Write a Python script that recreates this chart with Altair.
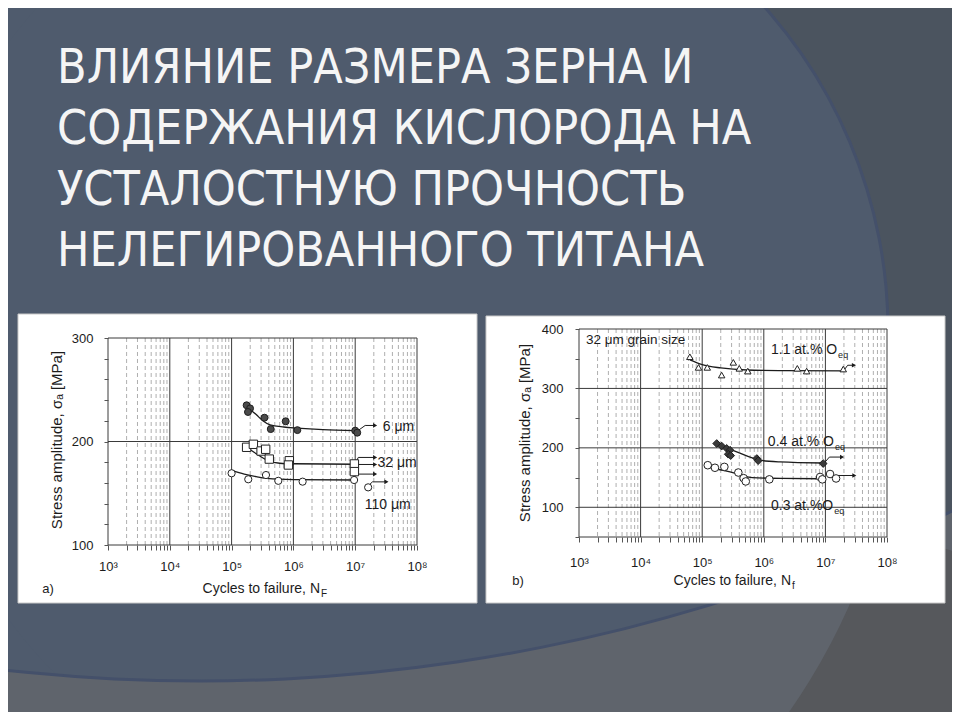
import math
import altair as alt
import pandas as pd

# ---------------- data ----------------
TITLE_LINES = [
    "ВЛИЯНИЕ РАЗМЕРА ЗЕРНА И",
    "СОДЕРЖАНИЯ КИСЛОРОДА НА",
    "УСТАЛОСТНУЮ ПРОЧНОСТЬ",
    "НЕЛЕГИРОВАННОГО ТИТАНА",
]

DECADES = [1e3, 1e4, 1e5, 1e6, 1e7, 1e8]
MINOR_MULT = [2, 3, 4, 5, 6, 7, 8, 9]
A_YTICKS = [100, 120, 140, 160, 180, 200, 220, 240, 260, 280, 300]
A_YGRID = [100, 200, 300]
B_YTICKS = [50, 100, 150, 200, 250, 300, 350, 400]
B_YGRID = [50, 100, 200, 300, 400]

# panel a) grain size
A6_N = [1.75e5, 1.99e5, 1.84e5, 3.4e5, 4.3e5, 7.5e5, 1.16e6, 1.0e7, 1.08e7]
A6_S = [235, 232, 228.5, 223, 212, 219.5, 211, 210.5, 208.5]
A6_CN = [1.9e5, 2.5e5, 3.2e5, 4.2e5, 7e5, 1.14e6, 3e6, 1e7]
A6_CS = [232, 226, 220, 216, 214, 213, 211.5, 210.5]

A32_N = [1.75e5, 2.25e5, 3.0e5, 3.56e5, 4.07e5, 8.6e5, 8.3e5, 9.7e6, 9.7e6]
A32_S = [194.4, 197.3, 190.8, 192.5, 183, 181.4, 177.3, 178.3, 170.9]
A32_CN = [1.9e5, 2.7e5, 4e5, 6e5, 1e6, 1e7]
A32_CS = [193, 187, 181, 179, 178.5, 178]

A110_N = [1.0e5, 1.86e5, 3.6e5, 5.7e5, 1.41e6, 9.6e6, 1.62e7]
A110_S = [169.3, 163.5, 167.6, 162, 161.2, 162.8, 155.7]
A110_CN = [1e5, 1.6e5, 2.5e5, 3.7e5, 1e6, 1e7]
A110_CS = [172, 168.5, 166, 164.4, 163.2, 162.8]

A_ARROW_ID = [0, 0, 0, 1, 1, 1, 2, 2, 3, 3, 3, 4, 4, 4]
A_ARROW_N = [1.08e7, 1.45e7, 2.1e7, 1.05e7, 1.12e7, 2.1e7, 1.08e7, 2.1e7,
             1.05e7, 1.12e7, 2.1e7, 1.62e7, 1.9e7, 3.2e7]
A_ARROW_S = [210, 215.5, 215.5, 181, 184.6, 184.6, 177.8, 177.8,
             170, 168.5, 168.5, 157, 161, 161]

A_LABELS = ["6 μm", "32 μm", "110 μm"]
A_LABEL_N = [2.8e7, 2.3e7, 1.43e7]
A_LABEL_S = [214, 179.5, 139]

# panel b) oxygen content (32 μm grain size)
B11_N = [6.3e4, 8.7e4, 1.21e5, 2.07e5, 3.2e5, 4.0e5, 5.5e5, 3.5e6, 4.96e6, 1.95e7]
B11_S = [353.3, 335.4, 335.4, 322.5, 343.9, 333.8, 329.2, 333.8, 329.2, 332.6]
B11_CN = [6.3e4, 1e5, 2e5, 5.3e5, 2e6, 1.95e7]
B11_CS = [348, 340, 334.5, 331, 330, 329.5]

B04_N = [1.72e5, 2.07e5, 2.5e5, 2.83e5, 2.65e5, 2.9e5, 7.7e5, 8.1e5, 9.2e6]
B04_S = [207.3, 203, 199, 196, 189.3, 187, 182, 178.5, 173.6]
B04_CN = [1.72e5, 3.63e5, 8.7e5, 1.83e6, 9.2e6]
B04_CS = [207, 193.2, 179.2, 176.3, 174.5]

B03_N = [1.23e5, 1.61e5, 2.29e5, 3.86e5, 4.7e5, 5.1e5, 1.23e6, 8.2e6, 8.9e6, 1.19e7, 1.49e7]
B03_S = [170.8, 166.5, 168, 158.5, 149, 143.5, 147, 151, 147, 156, 148.5]
B03_CN = [1.19e5, 1.6e5, 2.5e5, 4e5, 6.5e5, 2e6, 8e6]
B03_CS = [169, 165, 161, 155.5, 150, 148.5, 148]

B_ARROW_ID = [0, 0, 0, 1, 1, 1, 2, 2]
B_ARROW_N = [1.95e7, 2.3e7, 2.9e7, 9.5e6, 1.16e7, 1.86e7, 1.6e7, 2.95e7]
B_ARROW_S = [329, 339, 339, 174, 184.5, 184.5, 153.5, 153.5]

B_LABELS = ["1.1 at.% O", "0.4 at.% O", "0.3 at.%O"]
B_LABEL_N = [1.55e7, 1.38e7, 1.34e7]
B_LABEL_S = [365, 210, 102]
B_SUB = ["eq", "eq", "eq"]

# ---------------- styling ----------------
FONT = "Liberation Sans"
TFONT = "DejaVu Sans Condensed, Roboto Condensed, Liberation Sans Narrow, Roboto, sans-serif"
INK = "#1c1c1c"
BLUE = "#4f5b6d"
SLATE = "#4b545f"
GREY = "#5f646c"
DGREY = "#56585c"
EDGE = "#44506a"

one = pd.DataFrame({"k": [0]})


def sdf(n, s):
    return pd.DataFrame({"n": n, "s": s})


def build_panel(W, H, ydomain, yrange, yticks, ygrid, labpad_x, labpad_y,
                series, curves, arrows, labels, extras, frame):
    xs = alt.Scale(type="log", domain=[1e3, 1e8])
    ys = alt.Scale(domain=ydomain, range=yrange)
    minor = [m * d for d in DECADES[:-1] for m in MINOR_MULT]
    xaxis = alt.Axis(values=DECADES + minor, title=None, grid=False, domain=False,
                     tickSize=5, tickColor="#555", labelPadding=labpad_x,
                     labelFont=FONT, labelFontSize=13, labelColor=INK,
                     labelOverlap=False, labelFlush=False, zindex=1,
                     labelExpr="abs(log(datum.value)/LN10 - round(log(datum.value)/LN10)) < 0.01 ? "
                               "'10' + ['³','⁴','⁵','⁶','⁷','⁸'][round(log(datum.value)/LN10)-3] : ''")
    yaxis = alt.Axis(values=yticks, title=None, grid=False, domain=False,
                     tickSize=4, tickColor="#555", labelPadding=labpad_y,
                     labelFont=FONT, labelFontSize=13, labelColor=INK,
                     labelOverlap=False, zindex=1,
                     labelExpr="datum.value % 100 === 0 ? datum.label : ''")
    X = alt.X("n:Q", scale=xs, axis=xaxis)
    Y = alt.Y("s:Q", scale=ys, axis=yaxis)

    ytop, ybot = yrange[1], yrange[0]
    layers = list(extras)
    # white page of the scanned figure
    layers.append(alt.Chart(one).mark_rect(color="white", stroke="#c9c9c9", strokeWidth=1).encode(
        x=alt.value(frame[0]), x2=alt.value(frame[1]), y=alt.value(frame[2]), y2=alt.value(frame[3])))
    # log-paper grid
    layers.append(alt.Chart(pd.DataFrame({"n": minor})).mark_rule(
        color="#9a9a9a", strokeWidth=0.8, strokeDash=[4, 3]).encode(
        x=X, y=alt.value(ytop), y2=alt.value(ybot)))
    layers.append(alt.Chart(pd.DataFrame({"n": DECADES})).mark_rule(
        color="#3a3a3a", strokeWidth=1).encode(x=X, y=alt.value(ytop), y2=alt.value(ybot)))
    layers.append(alt.Chart(pd.DataFrame({"s": ygrid})).mark_rule(
        color="#3a3a3a", strokeWidth=1).encode(y=Y, x=alt.value(0), x2=alt.value(W)))
    # fitted curves
    for cn, cs in curves:
        layers.append(alt.Chart(sdf(cn, cs)).mark_line(
            color=INK, strokeWidth=1.3, interpolate="monotone").encode(x=X, y=Y))
    # run-out arrows
    adf = pd.DataFrame({"id": arrows[0], "n": arrows[1], "s": arrows[2]})
    layers.append(alt.Chart(adf).mark_line(color=INK, strokeWidth=1).encode(
        x=X, y=Y, detail="id:N", order=alt.Order("n:Q")))
    layers.append(alt.Chart(adf.groupby("id").tail(1)).mark_point(
        shape="triangle-right", filled=True, color=INK, size=22, opacity=1).encode(x=X, y=Y))
    # data points
    for (n, s, kw) in series:
        layers.append(alt.Chart(sdf(n, s)).mark_point(opacity=1, **kw).encode(x=X, y=Y))
    # labels
    for lab in labels:
        layers.append(lab(X, Y))
    return alt.layer(*layers).properties(width=W, height=H)


def text_layer(df, **kw):
    def f(X, Y):
        return alt.Chart(df).mark_text(font=FONT, color=INK, baseline="middle", **kw).encode(
            x=X, y=Y, text="t:N")
    return f


def fixed_text(txt, x, y, **kw):
    base = dict(font=FONT, color=INK, baseline="middle")
    base.update(kw)
    return alt.Chart(one).mark_text(text=txt, **base).encode(x=alt.value(x), y=alt.value(y))


# ----- slide background + title (drawn in panel a's coordinate frame; origin = page (108, 329)) -----
def ring(cx, cy, r_in, r_out, color, t0=0.0, t1=2 * math.pi):
    return alt.Chart(one).mark_arc(theta=t0, theta2=t1, innerRadius=r_in,
                                   outerRadius=r_out, color=color, strokeWidth=0).encode(
        x=alt.value(cx), y=alt.value(cy))


bg_layers = [
    alt.Chart(one).mark_rect(color=BLUE, strokeWidth=0).encode(
        x=alt.value(-120), x2=alt.value(293), y=alt.value(-340), y2=alt.value(400)),
    ring(293, 2, 0, 487, BLUE),
    ring(293, 2, 485.5, 488.5, EDGE, 0.45, 2.1),
    ring(92, -1397, 1749, 3600, GREY),
    ring(159, 18, 637, 1200, DGREY, 1.86, 2.9),
    ring(92, -1397, 1747.5, 1750.5, EDGE),
    alt.Chart(one).mark_text(text=TITLE_LINES, font=TFONT, fontSize=48, color="#f5f5f5",
                             align="left", baseline="alphabetic", lineHeight=61).encode(
        x=alt.value(-51), y=alt.value(-246)),
]

a_text_extras = [
    lambda X, Y: fixed_text("Stress amplitude, σₐ [MPa]", -51, 111, angle=270, align="center", fontSize=15),
    lambda X, Y: fixed_text("Cycles to failure, N", 212, 260, align="right", fontSize=14),
    lambda X, Y: fixed_text("F", 213, 265, align="left", fontSize=10),
    lambda X, Y: fixed_text("a)", -60, 260, align="center", fontSize=13),
]

a_labels = [text_layer(pd.DataFrame({"n": A_LABEL_N, "s": A_LABEL_S, "t": A_LABELS}),
                       align="left", fontSize=14)] + a_text_extras

panel_a = build_panel(
    309, 216, [100, 300], [216, 9], A_YTICKS, A_YGRID, 10, 11,
    series=[
        (A6_N, A6_S, dict(shape="circle", filled=True, fill="#4a4a4a", stroke="#1e1e1e", strokeWidth=1, size=48)),
        (A32_N, A32_S, dict(shape="square", filled=True, fill="white", stroke="#222", strokeWidth=1, size=70)),
        (A110_N, A110_S, dict(shape="circle", filled=True, fill="white", stroke="#222", strokeWidth=1, size=52)),
    ],
    curves=[(A6_CN, A6_CS), (A32_CN, A32_CS), (A110_CN, A110_CS)],
    arrows=(A_ARROW_ID, A_ARROW_N, A_ARROW_S),
    labels=a_labels,
    extras=bg_layers,
    frame=(-90, 369, -15, 274),
)

b_lab_df = pd.DataFrame({"n": B_LABEL_N, "s": B_LABEL_S, "t": B_LABELS})
b_sub_df = pd.DataFrame({"n": B_LABEL_N, "s": B_LABEL_S, "t": B_SUB})
b_labels = [
    text_layer(b_lab_df, align="right", fontSize=14),
    text_layer(b_sub_df, align="left", fontSize=9, dx=1, dy=5),
    text_layer(pd.DataFrame({"n": [1.3e3], "s": [381.5], "t": ["32 μm grain size"]}),
               align="left", fontSize=13.5),
    lambda X, Y: fixed_text("Stress amplitude, σₐ [MPa]", -54, 104, angle=270, align="center", fontSize=15),
    lambda X, Y: fixed_text("Cycles to failure, N", 212, 252, align="right", fontSize=14),
    lambda X, Y: fixed_text("f", 213, 257, align="left", fontSize=10),
    lambda X, Y: fixed_text("b)", -61, 252, align="center", fontSize=13),
]

panel_b = build_panel(
    308, 208, [50, 400], [208, 0], B_YTICKS, B_YGRID, 14, 12,
    series=[
        (B11_N, B11_S, dict(shape="triangle-up", filled=True, fill="white", stroke="#222", strokeWidth=1, size=42)),
        (B04_N, B04_S, dict(shape="diamond", filled=True, fill="#3a3a3a", stroke="#1e1e1e", strokeWidth=1, size=60)),
        (B03_N, B03_S, dict(shape="circle", filled=True, fill="white", stroke="#222", strokeWidth=1, size=58)),
    ],
    curves=[(B11_CN, B11_CS), (B04_CN, B04_CS), (B03_CN, B03_CS)],
    arrows=(B_ARROW_ID, B_ARROW_N, B_ARROW_S),
    labels=b_labels,
    extras=[],
    frame=(-93, 366, -13, 274),
)

chart = alt.hconcat(panel_a, panel_b, spacing=162, bounds="flush").properties(
    autosize=alt.AutoSizeParams(type="none"),
    padding={"left": 100, "top": 321, "right": 844, "bottom": 383},
    background=SLATE,
).configure_view(strokeWidth=0)

chart.save("out.html", embed_options={"renderer": "svg", "actions": False})
